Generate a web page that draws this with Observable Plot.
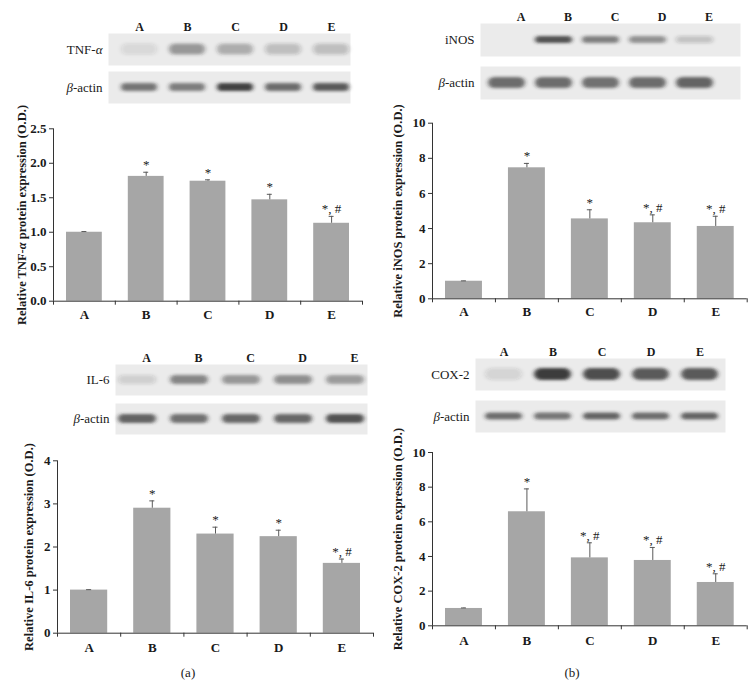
<!DOCTYPE html>
<html><head><meta charset="utf-8">
<script src="https://cdn.jsdelivr.net/npm/d3@7"></script>
<script src="https://cdn.jsdelivr.net/npm/@observablehq/plot@0.6"></script>
<style>
body{margin:0;background:#fff;}
#fig{position:relative;width:755px;height:699px;font-family:"Liberation Serif","DejaVu Serif",serif;color:#1a1a1a;}
#fig > div{position:absolute;}
#fig svg{overflow:visible;}
.cap{font-size:13px;transform:translateX(-50%);}
</style></head><body><div id="fig"></div>
<script>
// ---------- data ----------
const groups = ["A", "B", "C", "D", "E"];

// TNF-α
const tnfValues = [1.00, 1.81, 1.74, 1.47, 1.13];
const tnfErrors = [0.01, 0.06, 0.02, 0.08, 0.10];
const tnfSig = ["", "*", "*", "*", "*, #"];
const tnfTicks = [0, 0.5, 1.0, 1.5, 2.0, 2.5];
const tnfBlot = [0.1, 0.42, 0.32, 0.22, 0.22];
const tnfActinBlot = [0.6, 0.56, 0.86, 0.64, 0.72];

// iNOS
const inosValues = [1.0, 7.46, 4.55, 4.33, 4.12];
const inosErrors = [0.02, 0.25, 0.52, 0.45, 0.58];
const inosSig = ["", "*", "*", "*, #", "*, #"];
const inosTicks = [0, 2, 4, 6, 8, 10];
const inosBlot = [0.0, 0.78, 0.55, 0.45, 0.2];
const inosActinBlot = [0.64, 0.64, 0.62, 0.64, 0.68];

// IL-6
const il6Values = [1.0, 2.90, 2.30, 2.24, 1.62];
const il6Errors = [0.01, 0.17, 0.16, 0.15, 0.10];
const il6Sig = ["", "*", "*", "*", "*, #"];
const il6Ticks = [0, 1, 2, 3, 4];
const il6Blot = [0.14, 0.52, 0.42, 0.46, 0.4];
const il6ActinBlot = [0.7, 0.62, 0.66, 0.66, 0.78];

// COX-2
const coxValues = [1.0, 6.58, 3.92, 3.77, 2.5];
const coxErrors = [0.03, 1.32, 0.87, 0.75, 0.5];
const coxSig = ["", "*", "*, #", "*, #", "*, #"];
const coxTicks = [0, 2, 4, 6, 8, 10];
const coxBlot = [0.12, 0.88, 0.8, 0.72, 0.72];
const coxActinBlot = [0.64, 0.6, 0.68, 0.64, 0.68];

const FONT = '"Liberation Serif","DejaVu Serif",serif';
const INK = "#1a1a1a";
const fig = document.getElementById("fig");

function place(node, left, top) {
  const d = document.createElement("div");
  d.style.left = left + "px";
  d.style.top = top + "px";
  d.appendChild(node);
  fig.appendChild(d);
}

let blotId = 0;
function blot(o) {
  const id = "blur" + (blotId++);
  const rows = [o.targetLabel, "β-actin"];
  const tRows = groups.map((g, i) => ({lane: g, row: o.targetLabel, v: o.target[i]}));
  const aRows = groups.map((g, i) => ({lane: g, row: "β-actin", v: o.actin[i]}));
  const rowH = o.rowH;
  const svg = Plot.plot({
    width: o.width, height: o.height,
    marginLeft: o.boxLeft, marginRight: o.width - o.boxRight,
    marginTop: o.rowTop, marginBottom: o.height - o.rowBottom,
    style: {fontFamily: FONT, fontSize: "12px", color: INK, background: "transparent"},
    x: {domain: groups, range: o.laneRange, padding: 0, axis: "top", tickSize: 0, tickPadding: 3, label: null},
    fy: {domain: rows, paddingInner: o.gapFrac, paddingOuter: 0, axis: "left", tickSize: 0, tickPadding: 6, label: null},
    opacity: {type: "linear", domain: [0, 1], range: [0, 1]},
    marks: [
      Plot.frame({fill: "#ebebeb", stroke: null}),
      Plot.cell(tRows, {x: "lane", fy: "row", fill: "#262626", fillOpacity: "v",
        insetTop: (rowH - o.tThick) / 2, insetBottom: (rowH - o.tThick) / 2,
        insetLeft: o.bandInset, insetRight: o.bandInset, rx: o.tThick / 2}),
      Plot.cell(aRows, {x: "lane", fy: "row", fill: "#262626", fillOpacity: "v",
        insetTop: (rowH - o.aThick) / 2, insetBottom: (rowH - o.aThick) / 2,
        insetLeft: o.bandInset, insetRight: o.bandInset, rx: o.aThick / 2})
    ]
  });
  const ns = "http://www.w3.org/2000/svg";
  const defs = document.createElementNS(ns, "defs");
  defs.innerHTML = `<filter id="${id}" x="-20%" y="-100%" width="140%" height="300%"><feGaussianBlur stdDeviation="2.2 1.8"/></filter>`;
  svg.insertBefore(defs, svg.firstChild);
  svg.querySelectorAll('g[aria-label="cell"]').forEach(g => g.setAttribute("filter", `url(#${id})`));
  svg.querySelectorAll('g[aria-label="x-axis tick label"] text').forEach(t => {
    t.setAttribute("font-weight", "bold");
  });
  const xl = svg.querySelector('g[aria-label="x-axis tick label"]');
  if (xl && o.letterDx) xl.setAttribute("transform", (xl.getAttribute("transform") || "") + ` translate(${o.letterDx},0)`);
  svg.querySelectorAll('g[aria-label="fy-axis tick label"] text').forEach(t => {
    const s = t.textContent;
    if (s === "β-actin") t.innerHTML = '<tspan font-style="italic">β</tspan>-actin';
    else if (s.endsWith("α")) t.innerHTML = s.slice(0, -1) + '<tspan font-style="italic">α</tspan>';
    t.setAttribute("font-size", "13px");
  });
  place(svg, o.left, o.top);
}

function bars(o) {
  const data = groups.map((g, i) => ({g, i, v: o.values[i], e: o.errors[i], s: o.sig[i]}));
  const svg = Plot.plot({
    width: o.width, height: o.height,
    marginLeft: o.ml, marginRight: o.mr, marginTop: o.mt, marginBottom: o.mb,
    style: {fontFamily: FONT, fontSize: "12px", color: INK, background: "transparent"},
    x: {type: "linear", domain: [0, groups.length], axis: null},
    y: {domain: [0, o.ticks[o.ticks.length - 1]], axis: null},
    marks: [
      Plot.rectY(data, {x1: d => d.i, x2: d => d.i + 1, y: "v", fill: "#a6a6a6", insetLeft: 13, insetRight: 13}),
      Plot.ruleX(data, {x: d => d.i + 0.5, y1: "v", y2: d => d.v + d.e, stroke: "#5a5a5a"}),
      Plot.ruleY(data, {y: d => d.v + d.e, x1: d => d.i + 0.46, x2: d => d.i + 0.54, stroke: "#5a5a5a"}),
      Plot.ruleY([0], {stroke: "#333"}),
      Plot.ruleX([0], {stroke: "#333"}),
      Plot.axisY({ticks: o.ticks, tickSize: 4, tickPadding: 3, tickFormat: o.fmt, fontWeight: "bold", fontSize: 13, stroke: "#333", fill: INK, label: null}),
      Plot.axisX({ticks: d3.range(groups.length + 1), tickSize: 4, tickFormat: () => "", stroke: "#333", label: null}),
      Plot.text(data, {x: d => d.i + 0.5, y: 0, text: "g", dy: o.catDy, fontWeight: "bold", fontSize: 13, fill: INK}),
      Plot.text(data, {x: d => d.i + 0.5, y: d => d.v + d.e, text: "s", dy: -3, lineAnchor: "bottom", fontSize: 13, fill: INK}),
      Plot.text([o.label], {frameAnchor: "left", dx: o.labelDx, rotate: -90, textAnchor: "middle", lineAnchor: "middle", fontWeight: "bold", fontSize: 12.5, fill: INK})
    ]
  });
  svg.querySelectorAll('g[aria-label="text"] text').forEach(t => {
    if (t.textContent.includes("α")) {
      const s = t.textContent, k = s.indexOf("α");
      t.innerHTML = s.slice(0, k) + '<tspan font-style="italic">α</tspan>' + s.slice(k + 1);
    }
  });
  place(svg, o.left, o.top);
}

const f1 = d3.format(".1f"), f0 = d3.format("d");

// ---- panel (a) top: TNF-α ----
blot({target: tnfBlot, actin: tnfActinBlot, targetLabel: "TNF-α", left: 0, top: 0, width: 375, height: 104,
  boxLeft: 108, boxRight: 350, laneRange: [113.75, 356.25], rowTop: 33, rowBottom: 103, rowH: 32, gapFrac: 0.158,
  tThick: 11, aThick: 8, bandInset: 6, letterDx: 0});
bars({values: tnfValues, errors: tnfErrors, sig: tnfSig, ticks: tnfTicks, fmt: f1,
  label: "Relative TNF-α protein expression (O.D.)", left: 0, top: 110, width: 375, height: 230,
  ml: 53, mr: 13, mt: 18.3, mb: 39.3, labelDx: -32, catDy: 13.5});

// ---- panel (b) top: iNOS ----
blot({target: inosBlot, actin: inosActinBlot, targetLabel: "iNOS", left: 380, top: 0, width: 375, height: 101,
  boxLeft: 100, boxRight: 360, laneRange: [102, 339.5], rowTop: 22, rowBottom: 100, rowH: 34, gapFrac: 0.227,
  tThick: 8, aThick: 12, bandInset: 5, letterDx: 14});
bars({values: inosValues, errors: inosErrors, sig: inosSig, ticks: inosTicks, fmt: f0,
  label: "Relative iNOS protein expression (O.D.)", left: 380, top: 110, width: 375, height: 230,
  ml: 52, mr: 8.3, mt: 12.7, mb: 41.7, labelDx: -34.5, catDy: 13.5});

// ---- panel (a) bottom: IL-6 ----
blot({target: il6Blot, actin: il6ActinBlot, targetLabel: "IL-6", left: 0, top: 340, width: 378, height: 96,
  boxLeft: 115, boxRight: 367, laneRange: [109.75, 372.25], rowTop: 24, rowBottom: 95, rowH: 32, gapFrac: 0.2,
  tThick: 10, aThick: 10, bandInset: 7, letterDx: 9});
bars({values: il6Values, errors: il6Errors, sig: il6Sig, ticks: il6Ticks, fmt: f0,
  label: "Relative IL-6 protein expression (O.D.)", left: 0, top: 440, width: 378, height: 230,
  ml: 57, mr: 5, mt: 20.3, mb: 37.3, labelDx: -28.5, catDy: 15});

// ---- panel (b) bottom: COX-2 ----
blot({target: coxBlot, actin: coxActinBlot, targetLabel: "COX-2", left: 380, top: 340, width: 375, height: 94,
  boxLeft: 95, boxRight: 345, laneRange: [98.5, 343.5], rowTop: 17, rowBottom: 93, rowH: 34, gapFrac: 0.23,
  tThick: 14, aThick: 9, bandInset: 6, letterDx: 0});
bars({values: coxValues, errors: coxErrors, sig: coxSig, ticks: coxTicks, fmt: f0,
  label: "Relative COX-2 protein expression (O.D.)", left: 380, top: 440, width: 375, height: 230,
  ml: 52, mr: 8.3, mt: 12, mb: 44.7, labelDx: -34.5, catDy: 14.7});

// captions
for (const [t, x] of [["(a)", 188], ["(b)", 572]]) {
  const d = document.createElement("div");
  d.className = "cap";
  d.textContent = t;
  d.style.left = x + "px";
  d.style.top = "665px";
  fig.appendChild(d);
}
</script>
</body></html>
